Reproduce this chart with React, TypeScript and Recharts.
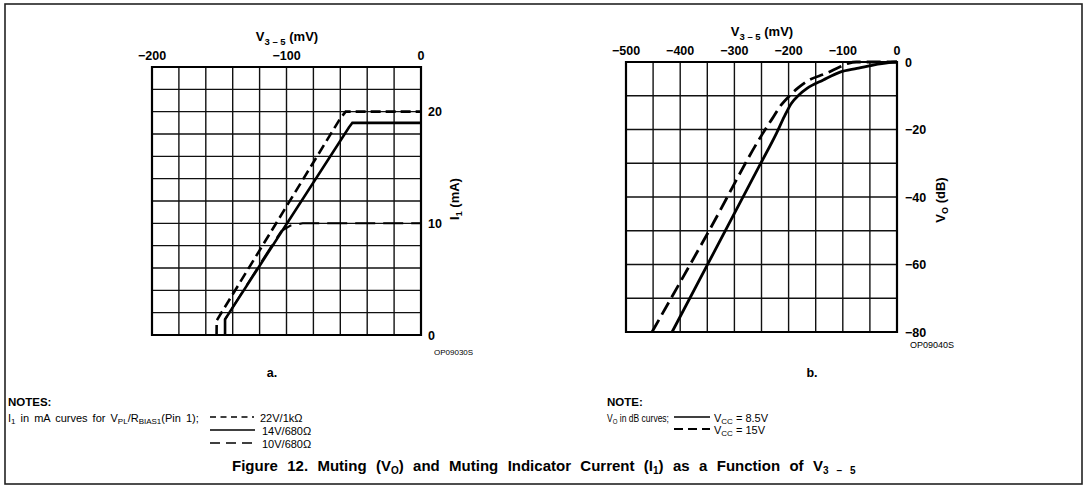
import React from 'react';
import { LineChart, Line, XAxis, YAxis, CartesianGrid, ReferenceArea } from 'recharts';

// ---------- Chart a: I1 (mA) vs V3-5 (mV) ----------
const aTicksX = [-200, -180, -160, -140, -120, -100, -80, -60, -40, -20, 0];
const aLabelsX = [-200, -100, 0];
const aTicksY = [0, 2, 4, 6, 8, 10, 12, 14, 16, 18, 20, 22, 24];
const aLabelsY = [0, 10, 20];
const i1_22V: [number, number][] = [[-152, 0], [-151.9, 1.3], [-60, 19.4], [-56, 20], [0, 20]];
const i1_14V: [number, number][] = [[-145.7, 0], [-145.7, 1.4], [-53.5, 18.6], [-51, 19], [0, 19]];
const i1_10V: [number, number][] = [[-145.7, 0], [-145.7, 1.4], [-110, 8.2], [-104, 9.3], [-97, 9.8], [-88, 10], [0, 10]];

// ---------- Chart b: VO (dB) vs V3-5 (mV) ----------
const bTicksX = [-500, -450, -400, -350, -300, -250, -200, -150, -100, -50, 0];
const bLabelsX = [-500, -400, -300, -200, -100, 0];
const bTicksY = [-80, -70, -60, -50, -40, -30, -20, -10, 0];
const bLabelsY = [-80, -60, -40, -20, 0];
const vo_8_5V: [number, number][] = [[-415, -80], [-253, -30.5], [-222, -21], [-208, -16.2], [-195, -12.3], [-180, -9.6], [-166, -7.8], [-136, -5.3], [-105, -3], [-74, -1.9], [-44, -0.9], [-15, -0.2], [0, 0]];
const vo_15V: [number, number][] = [[-452, -80], [-345, -49.5], [-247, -21], [-231, -17], [-214, -12.8], [-197, -9.8], [-182, -7.6], [-167, -5.8], [-130, -3.3], [-105, -1.4], [-90, -0.4], [-75, 0], [0, 0]];

const FONT = "'Liberation Sans', Arial, Helvetica, sans-serif";
const pts = (a: [number, number][]) => a.map(([x, y]) => ({ x, y }));
const fmt = (v: number) => (v < 0 ? '\u2212' + Math.abs(v) : String(v));

const makeTopTick = (labels: number[], baseY: number) => (props: any) => {
  const v = props.payload.value;
  if (!labels.includes(v)) return <g />;
  return (
    <text x={props.x} y={baseY} textAnchor="middle" fontFamily={FONT} fontWeight="bold" fontSize={12.5} fill="#000">
      {fmt(v)}
    </text>
  );
};
const makeRightTick = (labels: number[], xPos: number) => (props: any) => {
  const v = props.payload.value;
  if (!labels.includes(v)) return <g />;
  return (
    <text x={xPos} y={props.y + 4.5} textAnchor="start" fontFamily={FONT} fontWeight="bold" fontSize={12.5} fill="#000">
      {fmt(v)}
    </text>
  );
};

const GRID = '#111';

const ChartA = () => (
  <div style={{ position: 'absolute', left: 100, top: 0 }}>
    <LineChart width={400} height={360} margin={{ top: 47, right: 39, bottom: 25, left: 52 }}>
      <CartesianGrid stroke={GRID} strokeWidth={1.4} />
      <XAxis dataKey="x" type="number" domain={[-200, 0]} ticks={aTicksX} orientation="top" height={20}
        tickLine={false} axisLine={false} allowDataOverflow interval={0} tick={makeTopTick(aLabelsX, 59.5)} />
      <YAxis type="number" domain={[0, 24]} ticks={aTicksY} orientation="right" width={40}
        tickLine={false} axisLine={false} interval={0} tick={makeRightTick(aLabelsY, 328)} />
      <ReferenceArea x1={-200} x2={0} y1={0} y2={24} fill="none" stroke="#000" strokeWidth={2.2} ifOverflow="visible" />
      <Line data={pts(i1_10V)} dataKey="y" type="linear" stroke="#000" strokeWidth={2} strokeDasharray="20 8" dot={false} activeDot={false} isAnimationActive={false} />
      <Line data={pts(i1_14V)} dataKey="y" type="linear" stroke="#000" strokeWidth={2.6} dot={false} activeDot={false} isAnimationActive={false} />
      <Line data={pts(i1_22V)} dataKey="y" type="linear" stroke="#000" strokeWidth={2.6} strokeDasharray="10 5" dot={false} activeDot={false} isAnimationActive={false} />
    </LineChart>
  </div>
);

const ChartB = () => (
  <div style={{ position: 'absolute', left: 570, top: 0 }}>
    <LineChart width={400} height={360} margin={{ top: 42, right: 33, bottom: 28, left: 56 }}>
      <CartesianGrid stroke={GRID} strokeWidth={1.4} />
      <XAxis dataKey="x" type="number" domain={[-500, 0]} ticks={bTicksX} orientation="top" height={20}
        tickLine={false} axisLine={false} allowDataOverflow interval={0} tick={makeTopTick(bLabelsX, 54.5)} />
      <YAxis type="number" domain={[-80, 0]} ticks={bTicksY} orientation="right" width={40}
        tickLine={false} axisLine={false} interval={0} tick={makeRightTick(bLabelsY, 335)} />
      <ReferenceArea x1={-500} x2={0} y1={-80} y2={0} fill="none" stroke="#000" strokeWidth={2.2} ifOverflow="visible" />
      <Line data={pts(vo_8_5V)} dataKey="y" type="monotone" stroke="#000" strokeWidth={2.8} dot={false} activeDot={false} isAnimationActive={false} />
      <Line data={pts(vo_15V)} dataKey="y" type="monotone" stroke="#000" strokeWidth={2.8} strokeDasharray="14 6" dot={false} activeDot={false} isAnimationActive={false} />
    </LineChart>
  </div>
);

const Overlay = () => (
  <svg width={1088} height={486} style={{ position: 'absolute', left: 0, top: 0, pointerEvents: 'none' }} fontFamily={FONT}>
    <rect x={5} y={4} width={1077} height={480} fill="none" stroke="#222" strokeWidth={1.6} />
    {/* axis titles */}
    <text x={287} y={40.5} textAnchor="middle" fontWeight="bold" fontSize={13}>
      V<tspan dy={4} fontSize={9.5}>3 – 5</tspan><tspan dy={-4}> (mV)</tspan>
    </text>
    <text x={762} y={35.5} textAnchor="middle" fontWeight="bold" fontSize={13}>
      V<tspan dy={4} fontSize={9.5}>3 – 5</tspan><tspan dy={-4}> (mV)</tspan>
    </text>
    <text x={455} y={203} transform="rotate(-90 455 199)" textAnchor="middle" fontWeight="bold" fontSize={13}>
      I<tspan dy={3} fontSize={9}>1</tspan><tspan dy={-3}> (mA)</tspan>
    </text>
    <text x={941} y={204} transform="rotate(-90 941 200)" textAnchor="middle" fontWeight="bold" fontSize={13}>
      V<tspan dy={3} fontSize={9}>O</tspan><tspan dy={-3}> (dB)</tspan>
    </text>
    {/* figure ids */}
    <text x={434} y={355} fontSize={8}>OP09030S</text>
    <text x={910} y={348} fontSize={9}>OP09040S</text>
    <text x={272} y={377} textAnchor="middle" fontWeight="bold" fontSize={12.5}>a.</text>
    <text x={812} y={377} textAnchor="middle" fontWeight="bold" fontSize={12.5}>b.</text>
    {/* notes left */}
    <text x={8} y={406} fontWeight="bold" fontSize={11.5}>NOTES:</text>
    <text x={8} y={421.5} fontSize={11} wordSpacing={2}>
      I<tspan dy={2} fontSize={8}>1</tspan><tspan dy={-2}> in mA curves for V</tspan><tspan dy={2} fontSize={8}>PL</tspan><tspan dy={-2}>/R</tspan><tspan dy={2} fontSize={8}>BIAS1</tspan><tspan dy={-2}>(Pin 1);</tspan>
    </text>
    <line x1={210} y1={417} x2={254} y2={417} stroke="#000" strokeWidth={1.6} strokeDasharray="6 4.5" />
    <text x={260} y={421.5} fontSize={11}>22V/1kΩ</text>
    <line x1={210} y1={430} x2={255} y2={430} stroke="#000" strokeWidth={1.3} />
    <text x={262} y={434.5} fontSize={11}>14V/680Ω</text>
    <line x1={210} y1={443} x2={255} y2={443} stroke="#000" strokeWidth={1.3} strokeDasharray="10 6" />
    <text x={262} y={447.5} fontSize={11}>10V/680Ω</text>
    {/* notes right */}
    <text x={607} y={406} fontWeight="bold" fontSize={11.5}>NOTE:</text>
    <text x={607} y={421.5} fontSize={10.5} textLength={62} lengthAdjust="spacingAndGlyphs">
      V<tspan dy={2} fontSize={7.5}>O</tspan><tspan dy={-2}> in dB curves;</tspan>
    </text>
    <line x1={674} y1={417} x2={710} y2={417} stroke="#000" strokeWidth={1.3} />
    <text x={714} y={421.5} fontSize={11}>
      V<tspan dy={2} fontSize={8}>CC</tspan><tspan dy={-2}> = 8.5V</tspan>
    </text>
    <line x1={674} y1={429} x2={710} y2={429} stroke="#000" strokeWidth={2} strokeDasharray="9 5" />
    <text x={714} y={434} fontSize={11}>
      V<tspan dy={2} fontSize={8}>CC</tspan><tspan dy={-2}> = 15V</tspan>
    </text>
    {/* title */}
    <text x={232} y={471} fontWeight="bold" fontSize={15} wordSpacing={5.2}>
      Figure 12. Muting (V<tspan dy={3} fontSize={10}>O</tspan><tspan dy={-3}>) and Muting Indicator Current (I</tspan><tspan dy={3} fontSize={10}>1</tspan><tspan dy={-3}>) as a Function of V</tspan><tspan dy={3} fontSize={10}>3 – 5</tspan>
    </text>
  </svg>
);

export default function App() {
  return (
    <div style={{ position: 'absolute', left: 0, top: 0, width: 1088, height: 486, background: '#fff', fontFamily: FONT }}>
      <ChartA />
      <ChartB />
      <Overlay />
    </div>
  );
}
